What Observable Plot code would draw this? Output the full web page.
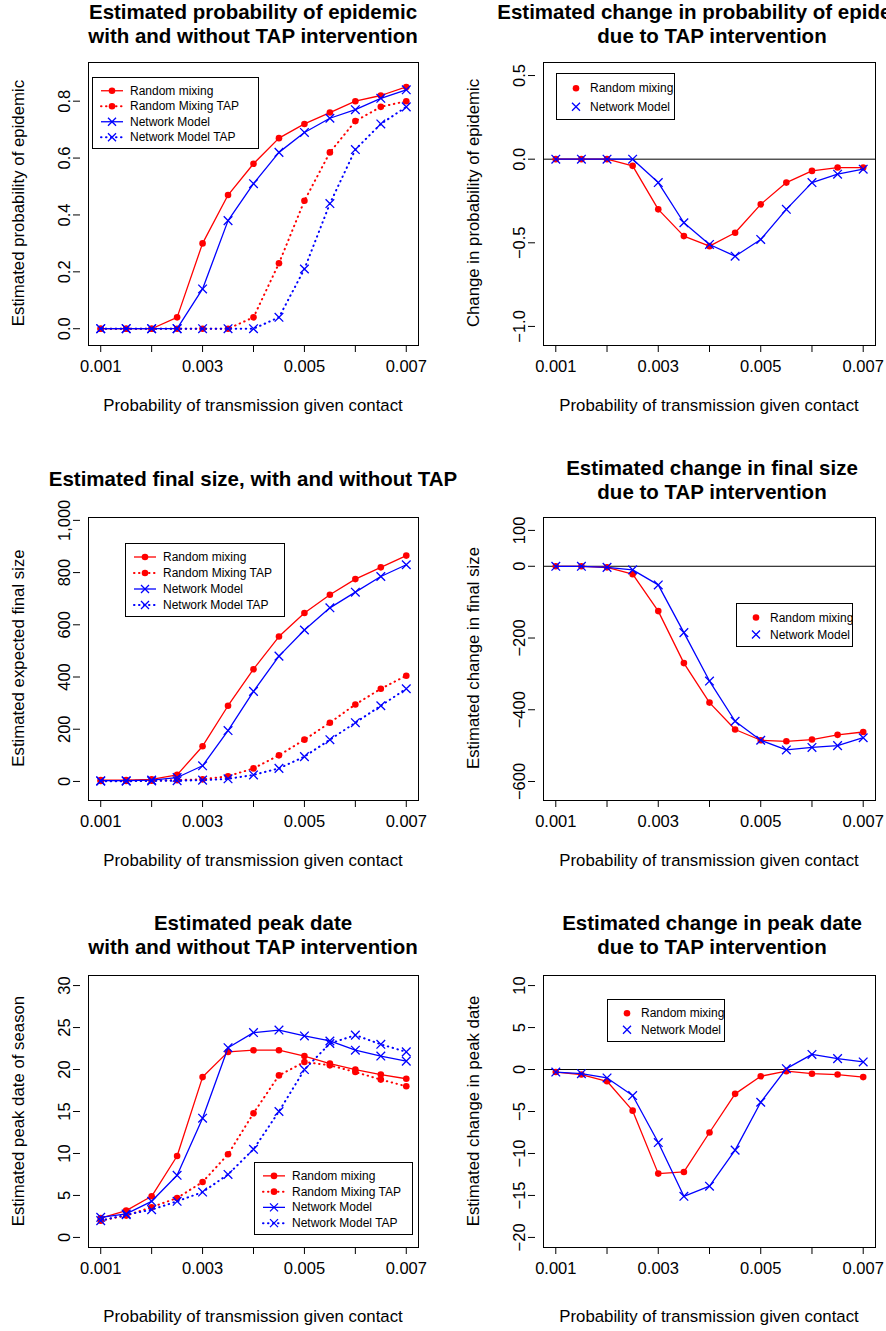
<!DOCTYPE html>
<html><head><meta charset="utf-8">
<script src="https://cdn.jsdelivr.net/npm/d3@7"></script>
<script src="https://cdn.jsdelivr.net/npm/@observablehq/plot@0.6"></script>
<style>
body{margin:0;background:#fff;font-family:"Liberation Sans",Arial,sans-serif;}
#root{position:relative;width:886px;height:1331px;overflow:hidden;}
.t{position:absolute;font-weight:bold;font-size:20.5px;text-align:center;line-height:24px;white-space:nowrap;}
.xl{position:absolute;font-size:16.8px;text-align:center;white-space:nowrap;}
.yl{position:absolute;font-size:16.8px;white-space:nowrap;transform:rotate(-90deg);transform-origin:center;text-align:center;}
.lg{position:absolute;border:1px solid #000;background:#fff;font-size:12px;}
.panel{position:absolute;}
</style></head><body><div id="root"></div>
<script>
const xs=[0.001,0.0015,0.002,0.0025,0.003,0.0035,0.004,0.0045,0.005,0.0055,0.006,0.0065,0.007];
const xTicks=[0.001,0.002,0.003,0.004,0.005,0.006,0.007];
// Panel 1
const p1RM=[0,0,0,0.04,0.30,0.47,0.58,0.67,0.72,0.76,0.80,0.82,0.85];
const p1RMT=[0,0,0,0,0,0,0.04,0.23,0.45,0.62,0.73,0.78,0.80];
const p1NM=[0,0,0,0,0.14,0.38,0.51,0.62,0.69,0.74,0.77,0.81,0.84];
const p1NMT=[0,0,0,0,0,0,0,0.04,0.21,0.44,0.63,0.72,0.78];
// Panel 2
const p2RM=[0,0,0,-0.04,-0.30,-0.46,-0.52,-0.44,-0.27,-0.14,-0.07,-0.05,-0.05];
const p2NM=[0,0,0,0,-0.14,-0.38,-0.51,-0.58,-0.48,-0.30,-0.14,-0.09,-0.06];
// Panel 3
const p3RM=[5,5,8,25,135,290,430,555,645,715,775,820,865];
const p3RMT=[2,2,3,5,8,20,50,100,160,225,295,355,405];
const p3NM=[3,3,5,15,60,195,345,480,580,665,725,785,830];
const p3NMT=[1,1,2,3,5,10,25,50,95,160,225,290,355];
// Panel 4
const p4RM=[0,0,-3,-22,-125,-270,-380,-455,-485,-488,-483,-470,-462];
const p4NM=[0,0,-3,-10,-52,-185,-320,-432,-485,-512,-505,-500,-478];
// Panel 5
const p5RM=[2.3,3.2,4.9,9.7,19.1,22.1,22.3,22.3,21.6,20.7,20.0,19.4,18.9];
const p5RMT=[2.0,2.6,3.6,4.7,6.6,9.9,14.8,19.3,20.9,20.5,19.7,18.8,18.0];
const p5NM=[2.4,2.8,4.3,7.4,14.2,22.6,24.4,24.7,24.0,23.4,22.3,21.6,21.0];
const p5NMT=[2.0,2.7,3.3,4.3,5.4,7.5,10.5,15.0,20.0,23.1,24.1,23.0,22.1];
// Panel 6
const p6RM=[-0.3,-0.6,-1.4,-4.9,-12.4,-12.2,-7.5,-2.9,-0.8,-0.2,-0.5,-0.6,-0.9];
const p6NM=[-0.3,-0.5,-1.0,-3.1,-8.7,-15.1,-13.9,-9.6,-3.9,0.1,1.8,1.3,0.9];

const root=document.getElementById("root");
const RED="#ff0000",BLUE="#0000ff";
const DOT="0.5,4.5";
function add(html){root.insertAdjacentHTML("beforeend",html);}

function series(vals,color,dotted,pch){
  const d=xs.map((x,i)=>({x,y:vals[i]}));
  const ms=[Plot.line(d,{x:"x",y:"y",stroke:color,strokeWidth:dotted?2:1.3,strokeDasharray:dotted?DOT:null,strokeLinecap:"round"})];
  if(pch==="o") ms.push(Plot.dot(d,{x:"x",y:"y",r:3.3,fill:color}));
  else ms.push(Plot.dot(d,{x:"x",y:"y",r:4,symbol:"times",stroke:color,strokeWidth:1.3}));
  return ms;
}
function panel({left,top,width,height,ml,mr,mt,mb,ydom,yticks,ser,zero}){
  const marks=[Plot.frame({stroke:"#000"})];
  if(zero) marks.push(Plot.ruleY([0],{stroke:"#000"}));
  for(const s of ser) marks.push(...series(...s));
  marks.push(Plot.axisX(xTicks,{label:null,tickSize:7,tickPadding:8,fontSize:16.5,tickFormat:d=>([0.001,0.003,0.005,0.007].some(v=>Math.abs(v-d)<1e-9)?String(+d.toFixed(3)):"")}));
  marks.push(Plot.axisY(yticks,{label:null,tickSize:7,tickPadding:4,fontSize:16.5,tickRotate:-90,textAnchor:"middle",dx:-8}));
  const svg=Plot.plot({width,height,marginLeft:ml,marginRight:mr,marginTop:mt,marginBottom:mb,
    style:{fontFamily:"Liberation Sans, Arial, sans-serif",fontSize:"16px",color:"#000",background:"transparent"},
    x:{domain:[0.00076,0.00724],label:null},y:{domain:ydom,label:null},marks});
  const div=document.createElement("div");div.className="panel";div.style.left=left+"px";div.style.top=top+"px";
  div.appendChild(svg);root.appendChild(div);
}
function legend(x,y,w,h,items){
  let s=`<div class="lg" style="left:${x}px;top:${y}px;width:${w}px;height:${h}px"><svg width="${w}" height="${h}" style="position:absolute;left:0;top:0">`;
  const step=(h-8)/items.length;
  items.forEach((it,i)=>{
    const cy=5+step*(i+0.5);
    const [lab,col,line,dot,pch]=it;
    if(line) s+=`<line x1="8" x2="30" y1="${cy}" y2="${cy}" stroke="${col}" stroke-width="${dot?2:1.3}" ${dot?'stroke-dasharray="'+DOT+'" stroke-linecap="round"':''}/>`;
    if(pch==="o") s+=`<circle cx="19" cy="${cy}" r="3.3" fill="${col}"/>`;
    else s+=`<path d="M15,${cy-4}L23,${cy+4}M15,${cy+4}L23,${cy-4}" stroke="${col}" stroke-width="1.3"/>`;
    s+=`<text x="${line?37:33}" y="${cy+4}" font-size="12" font-family="Liberation Sans, Arial">${lab}</text>`;
  });
  add(s+"</svg></div>");
}
const L={left:0,width:443,ml:88,mr:25}, R={left:443,width:443,ml:100,mr:11};
panel({...L,top:0,height:455,mt:62,mb:110,ydom:[-0.059,0.936],yticks:[0,0.2,0.4,0.6,0.8],
  ser:[[p1RM,RED,false,"o"],[p1RMT,RED,true,"o"],[p1NM,BLUE,false,"x"],[p1NMT,BLUE,true,"x"]]});
panel({...R,top:0,height:455,mt:62,mb:110,ydom:[-1.114,0.578],yticks:[-1,-0.5,0,0.5],zero:true,
  ser:[[p2RM,RED,false,"o"],[p2NM,BLUE,false,"x"]]});
panel({...L,top:455,height:455,mt:62,mb:110,ydom:[-73,1011],yticks:[0,200,400,600,800,1000],
  ser:[[p3RM,RED,false,"o"],[p3RMT,RED,true,"o"],[p3NM,BLUE,false,"x"],[p3NMT,BLUE,true,"x"]]});
panel({...R,top:455,height:455,mt:62,mb:110,ydom:[-653,136],yticks:[-600,-400,-200,0,100],zero:true,
  ser:[[p4RM,RED,false,"o"],[p4NM,BLUE,false,"x"]]});
panel({...L,top:910,height:421,mt:65,mb:84,ydom:[-1.2,31.2],yticks:[0,5,10,15,20,25,30],
  ser:[[p5RM,RED,false,"o"],[p5RMT,RED,true,"o"],[p5NM,BLUE,false,"x"],[p5NMT,BLUE,true,"x"]]});
panel({...R,top:910,height:421,mt:65,mb:84,ydom:[-21.2,11.2],yticks:[-20,-15,-10,-5,0,5,10],zero:true,
  ser:[[p6RM,RED,false,"o"],[p6NM,BLUE,false,"x"]]});
add(`<div class="t" style="left:0px;width:506px;top:0px">Estimated probability of epidemic<br>with and without TAP intervention</div>`);
add(`<div class="t" style="left:416px;width:592px;top:0px">Estimated change in probability of epidemic<br>due to TAP intervention</div>`);
add(`<div class="t" style="left:0px;width:506px;top:467px">Estimated final size, with and without TAP</div>`);
add(`<div class="t" style="left:416px;width:592px;top:456px">Estimated change in final size<br>due to TAP intervention</div>`);
add(`<div class="t" style="left:0px;width:506px;top:911px">Estimated peak date<br>with and without TAP intervention</div>`);
add(`<div class="t" style="left:416px;width:592px;top:911px">Estimated change in peak date<br>due to TAP intervention</div>`);
for(const [l,w] of [[88,330],[543,332]]) for(const y of [396,851,1307])
  add(`<div class="xl" style="left:${l-60}px;width:${w+120}px;top:${y}px">Probability of transmission given contact</div>`);
function yl(cx,cy,txt){add(`<div class="yl" style="left:${cx-200}px;width:400px;top:${cy-10}px;height:20px;line-height:20px">${txt}</div>`);}
yl(19,203,"Estimated probability of epidemic");
yl(474,203,"Change in probability of epidemic");
yl(19,658,"Estimated expected final size");
yl(474,658,"Estimated change in final size");
yl(19,1111,"Estimated peak date of season");
yl(474,1111,"Estimated change in peak date");
const full=[["Random mixing",RED,1,0,"o"],["Random Mixing TAP",RED,1,1,"o"],["Network Model",BLUE,1,0,"x"],["Network Model TAP",BLUE,1,1,"x"]];
const two=[["Random mixing",RED,0,0,"o"],["Network Model",BLUE,0,0,"x"]];
legend(92,77,165,70,full);
legend(556,73,117,45,two);
legend(125,543,158,72,full);
legend(736,603,115,42,two);
legend(254,1162,157,71,full);
legend(607,999,116,41,two);
</script></body></html>
